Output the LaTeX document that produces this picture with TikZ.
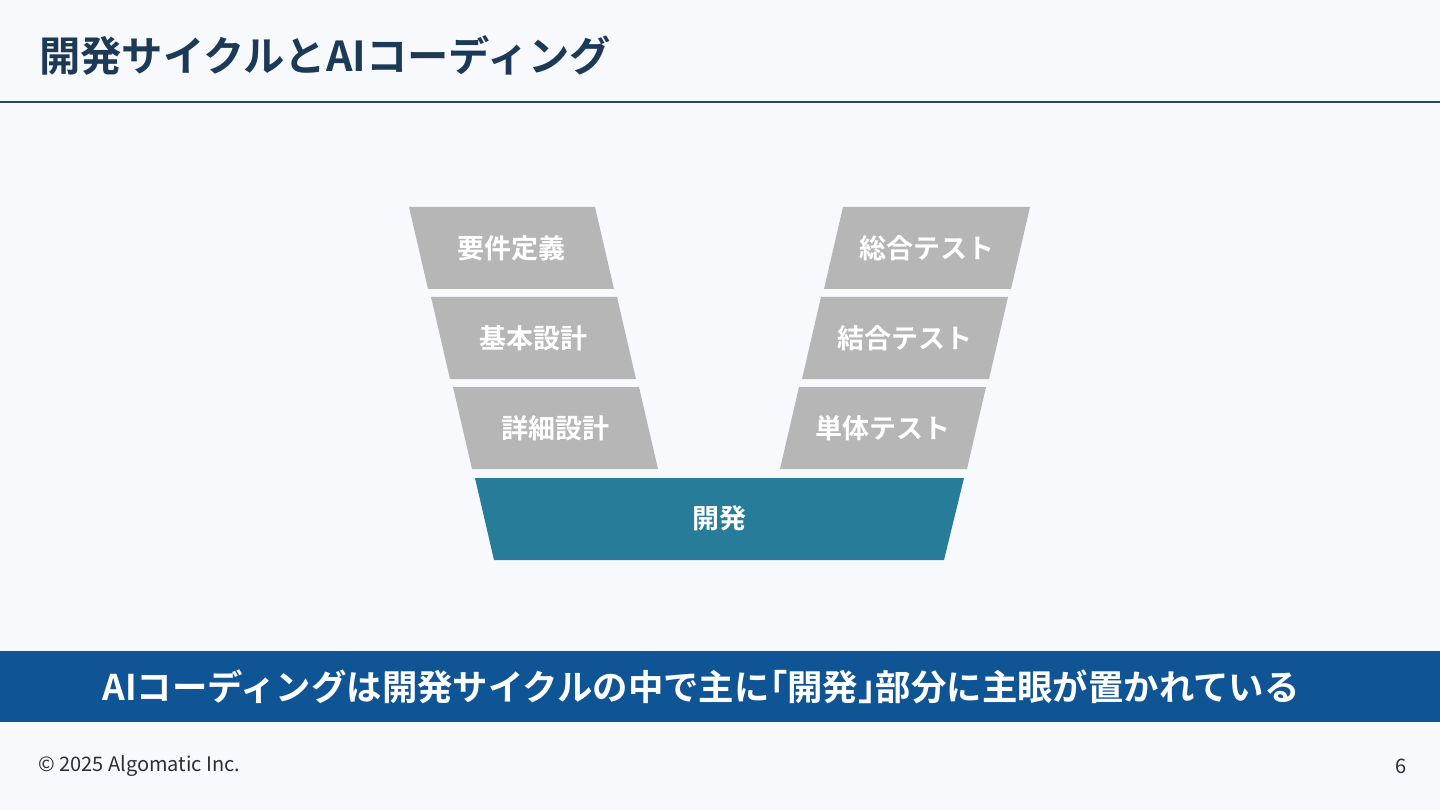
\documentclass[tikz,border=0pt]{standalone}
\usepackage{fontspec}
\setmainfont{Noto Sans CJK JP}[BoldFont={Noto Sans CJK JP Bold}]
\definecolor{bgc}{HTML}{F8F9FD}
\definecolor{titlec}{HTML}{1C3A56}
\definecolor{rulec}{HTML}{2C475F}
\definecolor{grayc}{HTML}{B6B6B6}
\definecolor{tealc}{HTML}{277C99}
\definecolor{bannerc}{HTML}{0F5596}
\definecolor{footc}{HTML}{2A2F38}
\newcommand{\hw}[1]{{\addfontfeature{RawFeature=+halt}#1}}
\tikzset{
  stage/.style={fill=grayc},
  stagelabel/.style={text=white,font=\fontsize{27}{32}\selectfont\bfseries,inner sep=0pt},
}
\begin{document}
\begin{tikzpicture}[x=1pt,y=-1pt]
\useasboundingbox (0,0) rectangle (1440,810);
\fill[bgc] (0,0) rectangle (1440,810);
% title
\node[anchor=west,text=titlec,font=\fontsize{41.3}{48}\selectfont\bfseries,inner sep=0pt] (title) at (39,55) {開発サイクルとAIコーディング};
\coordinate (rl) at (0,102.5);
\coordinate (rr) at (1440,102.5);
\draw[rulec,line width=2pt] (rl) -- (rr);
% left side
\fill[stage] (409,207) -- (595,207) -- (614,289) -- (428,289) -- cycle;
\node[stagelabel] (req) at (511.5,248) {要件定義};
\fill[stage] (431,297) -- (617,297) -- (636,379) -- (450,379) -- cycle;
\node[stagelabel] (basic) at (533.5,338) {基本設計};
\fill[stage] (453,387) -- (639,387) -- (658,469) -- (472,469) -- cycle;
\node[stagelabel] (detail) at (555.5,428) {詳細設計};
% right side
\fill[stage] (843,207) -- (1030,207) -- (1011,289) -- (824,289) -- cycle;
\node[stagelabel] (sys) at (927,248) {総合テスト};
\fill[stage] (821,297) -- (1008,297) -- (989,379) -- (802,379) -- cycle;
\node[stagelabel] (integ) at (905,338) {結合テスト};
\fill[stage] (799,387) -- (986,387) -- (967,469) -- (780,469) -- cycle;
\node[stagelabel] (unit) at (883,428) {単体テスト};
% dev
\fill[tealc] (475,478) -- (964,478) -- (944,560) -- (494,560) -- cycle;
\node[stagelabel] (dev) at (719,518) {開発};
% banner
\fill[bannerc] (0,651) rectangle (1440,722);
\node[text=white,font=\fontsize{35.4}{40}\selectfont\bfseries,inner sep=0pt] (msg) at (701,687) {AIコーディングは開発サイクルの中で主に\hw{「}開発\hw{」}部分に主眼が置かれている};
% footer
\node[anchor=west,text=footc,font=\fontsize{20}{24}\selectfont,inner sep=0pt] (copy) at (38,766) {© 2025 Algomatic Inc.};
\node[anchor=east,text=footc,font=\fontsize{20}{24}\selectfont,inner sep=0pt] (page) at (1407,766) {6};
\end{tikzpicture}
\end{document}
